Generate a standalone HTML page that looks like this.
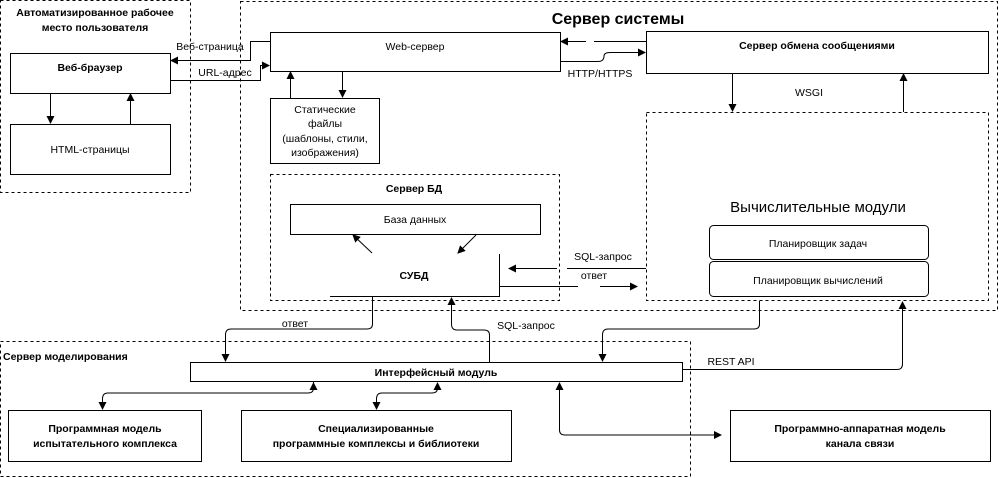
<!DOCTYPE html>
<html><head><meta charset="utf-8"><style>
body{margin:0;background:#fff}
svg{display:block}
text{font-family:"Liberation Sans",sans-serif;font-size:10.5px;fill:#000}
.b{font-weight:bold}
</style></head><body>
<svg width="999" height="478" viewBox="0 0 999 478" xmlns="http://www.w3.org/2000/svg">
<defs>
<marker id="a" markerWidth="8" markerHeight="8" refX="7" refY="4" orient="auto" markerUnits="userSpaceOnUse"><path d="M0,0 L8,4 L0,8 z" fill="#000"/></marker>
</defs>
<g fill="none" stroke="#000" stroke-width="1">
<!-- dashed containers -->
<rect x="0.5" y="0.5" width="190" height="192" stroke-dasharray="3,3"/>
<rect x="240.5" y="1.5" width="757" height="309" stroke-dasharray="3,3"/>
<rect x="270.5" y="174.5" width="289" height="126" stroke-dasharray="3,3"/>
<rect x="646.5" y="112.5" width="342" height="188" stroke-dasharray="3,3"/>
<rect x="0.5" y="341.5" width="690" height="135" stroke-dasharray="3,3"/>
<!-- boxes -->
<rect x="10.5" y="53.5" width="160" height="40"/>
<rect x="10.5" y="124.5" width="160" height="50"/>
<rect x="270.5" y="32.5" width="290" height="39"/>
<rect x="270.5" y="98.5" width="109" height="65"/>
<rect x="290.5" y="204.5" width="250" height="30"/>
<rect x="646.5" y="31.5" width="342" height="42"/>
<rect x="709.5" y="225.5" width="219" height="34" rx="4"/>
<rect x="709.5" y="261.5" width="219" height="35" rx="4"/>
<rect x="190.5" y="362.5" width="492" height="19"/>
<rect x="8.5" y="410.5" width="193" height="51"/>
<rect x="241.5" y="410.5" width="270" height="51"/>
<rect x="730.5" y="410.5" width="260" height="51"/>
<!-- browser arrows -->
<path d="M50.5,93 V123" marker-end="url(#a)"/>
<path d="M130.5,124 V94" marker-end="url(#a)"/>
<path d="M270,41.5 H250.5 V60.5 H171" marker-end="url(#a)"/>
<path d="M171,80.5 H260.5 V65.5 H269" marker-end="url(#a)"/>
<path d="M290.5,98 V72" marker-end="url(#a)"/>
<path d="M342.5,72 V97" marker-end="url(#a)"/>
<!-- web <-> messaging -->
<path d="M646,41.5 H594"/>
<path d="M586,41.5 H561" marker-end="url(#a)"/>
<path d="M561,61.5 H598 Q604,61.5 604,56 Q604,52.5 610,52.5 H645" marker-end="url(#a)"/>
<!-- WSGI -->
<path d="M732.5,74 V111" marker-end="url(#a)"/>
<path d="M903.5,112 V74" marker-end="url(#a)"/>
<!-- DB diag -->
<path d="M372,253 L353,235" marker-end="url(#a)"/>
<path d="M476,235 L458,253" marker-end="url(#a)"/>
<path d="M499.5,254 V296.5 H330"/>
<!-- SQL / ответ -->
<path d="M646,268.5 H567"/>
<path d="M557,268.5 H509" marker-end="url(#a)"/>
<path d="M499,286.5 H578"/>
<path d="M600,286.5 H637" marker-end="url(#a)"/>
<!-- lower connectors -->
<path d="M372.5,297 V324 Q372.5,329 367,329 H231 Q225.5,329 225.5,335 V361" marker-end="url(#a)"/>
<path d="M489.5,362 V335 Q489.5,330 484,330 H457 Q451.5,330 451.5,324 V298" marker-end="url(#a)"/>
<path d="M759.5,301 V324 Q759.5,329 754,329 H608 Q602.5,329 602.5,335 V361" marker-end="url(#a)"/>
<path d="M683,369.5 H897 Q902.5,369.5 902.5,364 V302" marker-end="url(#a)"/>
<path d="M313.5,382 V388 Q313.5,393 308,393 H108 Q102.5,393 102.5,399 V409" marker-end="url(#a)"/>
<path d="M313.5,388 V383" marker-end="url(#a)"/>
<path d="M437.5,386 V388 Q437.5,393 432,393 H382 Q376.5,393 376.5,399 V409" marker-end="url(#a)"/>
<path d="M437.5,388 V383" marker-end="url(#a)"/>
<path d="M559.5,390 V430 Q559.5,435 565,435 H721" marker-end="url(#a)"/>
<path d="M559.5,392 V383" marker-end="url(#a)"/>
</g>
<!-- text -->
<text x="95" y="16" text-anchor="middle" class="b">Автоматизированное рабочее</text>
<text x="95" y="31" text-anchor="middle" class="b">место пользователя</text>
<text x="90" y="71" text-anchor="middle" class="b">Веб-браузер</text>
<text x="90" y="153" text-anchor="middle">HTML-страницы</text>
<text x="210" y="50" text-anchor="middle">Веб-страница</text>
<text x="225" y="76" text-anchor="middle">URL-адрес</text>
<text x="618" y="24" text-anchor="middle" class="b" style="font-size:16px">Сервер системы</text>
<text x="415" y="50" text-anchor="middle">Web-сервер</text>
<text x="325" y="113" text-anchor="middle">Статические</text>
<text x="325" y="127" text-anchor="middle">файлы</text>
<text x="325" y="142" text-anchor="middle">(шаблоны, стили,</text>
<text x="325" y="156" text-anchor="middle">изображения)</text>
<text x="600" y="77" text-anchor="middle">HTTP/HTTPS</text>
<text x="817" y="49" text-anchor="middle" class="b">Сервер обмена сообщениями</text>
<text x="809" y="96" text-anchor="middle">WSGI</text>
<text x="414" y="192" text-anchor="middle" class="b">Сервер БД</text>
<text x="415" y="223" text-anchor="middle">База данных</text>
<text x="414" y="279" text-anchor="middle" class="b">СУБД</text>
<text x="603" y="260" text-anchor="middle">SQL-запрос</text>
<text x="594" y="279" text-anchor="middle">ответ</text>
<text x="818" y="212" text-anchor="middle" style="font-size:15px">Вычислительные модули</text>
<text x="818" y="247" text-anchor="middle">Планировщик задач</text>
<text x="818" y="284" text-anchor="middle">Планировщик вычислений</text>
<text x="295" y="327" text-anchor="middle">ответ</text>
<text x="526" y="329" text-anchor="middle">SQL-запрос</text>
<text x="731" y="365" text-anchor="middle">REST API</text>
<text x="3" y="360" class="b">Сервер моделирования</text>
<text x="436" y="376" text-anchor="middle" class="b">Интерфейсный модуль</text>
<text x="105" y="432" text-anchor="middle" class="b">Программная модель</text>
<text x="105" y="447" text-anchor="middle" class="b">испытательного комплекса</text>
<text x="376" y="432" text-anchor="middle" class="b">Специализированные</text>
<text x="376" y="447" text-anchor="middle" class="b">программные комплексы и библиотеки</text>
<text x="860" y="432" text-anchor="middle" class="b">Программно-аппаратная модель</text>
<text x="860" y="447" text-anchor="middle" class="b">канала связи</text>
</svg>
</body></html>
